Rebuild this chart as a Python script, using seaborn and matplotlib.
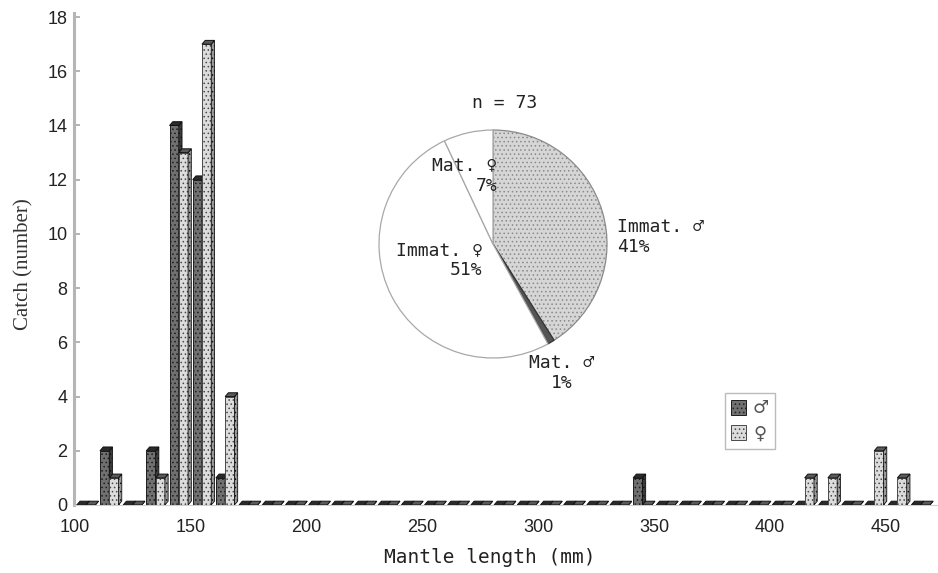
import numpy as np
import pandas as pd
import matplotlib
matplotlib.use("Agg")
import matplotlib.pyplot as plt
from matplotlib.patches import Polygon, Patch
import seaborn as sns

# ---- data ----
bins = [100, 110, 120, 130, 140, 150, 160, 170, 180, 190,
        200, 210, 220, 230, 240, 250, 260, 270, 280, 290,
        300, 310, 320, 330, 340, 350, 360, 370, 380, 390,
        400, 410, 420, 430, 440, 450, 460]
male = [0, 2, 0, 2, 14, 12, 1, 0, 0, 0,
        0, 0, 0, 0, 0, 0, 0, 0, 0, 0,
        0, 0, 0, 0, 1, 0, 0, 0, 0, 0,
        0, 0, 0, 0, 0, 0, 0]
female = [0, 1, 0, 1, 13, 17, 4, 0, 0, 0,
          0, 0, 0, 0, 0, 0, 0, 0, 0, 0,
          0, 0, 0, 0, 0, 0, 0, 0, 0, 0,
          0, 1, 1, 0, 2, 1, 0]
sexes = ["\u2642", "\u2640"]
yticks = [0, 2, 4, 6, 8, 10, 12, 14, 16, 18]
pie_labels = ["Immat. \u2642\n41%", "Mat. \u2642\n1%", "Immat. \u2640\n51%", "Mat. \u2640\n7%"]
pie_values = [41, 1, 51, 7]
n_total = 73

df = pd.DataFrame({
    "bin": [str(b) for b in bins] * 2,
    "sex": [sexes[0]] * len(bins) + [sexes[1]] * len(bins),
    "catch": male + female,
})

sns.set_theme(style="white")
plt.rcParams["font.family"] = ["DejaVu Sans"]
plt.rcParams["hatch.linewidth"] = 0.6

MONO = ["DejaVu Sans Mono", "Liberation Mono", "DejaVu Sans"]
NARROW = ["Liberation Sans Narrow", "Liberation Sans", "DejaVu Sans"]
SERIF = ["Liberation Serif", "DejaVu Serif"]

fig = plt.figure(figsize=(9.38, 5.73), dpi=100)
ax = fig.add_axes([0.0794, 0.1187, 0.9206, 0.8586])

male_fc, female_fc = "#707070", "#dcdcdc"
sns.barplot(data=df, x="bin", y="catch", hue="sex", order=[str(b) for b in bins],
            hue_order=sexes, palette={sexes[0]: male_fc, sexes[1]: female_fc},
            width=0.8, dodge=True, legend=False, ax=ax, saturation=1)

styles = [dict(hatch="....", ec="#1e1e1e", top="#2a2a2a", side="#3c3c3c", z=2),
          dict(hatch="....", ec="#4a4a4a", top="#5a5a5a", side="#9a9a9a", z=3)]
dx, dy = 0.14, 0.14
for cont, st in zip(ax.containers, styles):
    for p in cont:
        p.set_hatch(st["hatch"])
        p.set_edgecolor(st["ec"])
        p.set_linewidth(0.7)
        p.set_zorder(st["z"])
        x, w, h = p.get_x(), p.get_width(), p.get_height()
        top = Polygon([(x, h), (x + w, h), (x + w + dx, h + dy), (x + dx, h + dy)],
                      closed=True, facecolor=st["top"], edgecolor="#111", lw=0.7, zorder=st["z"])
        side = Polygon([(x + w, 0), (x + w + dx, dy), (x + w + dx, h + dy), (x + w, h)],
                       closed=True, facecolor=st["side"], edgecolor="#111", lw=0.6,
                       hatch="....", zorder=st["z"])
        ax.add_patch(side)
        ax.add_patch(top)

ax.set_xlim(-0.5, 36.75)
ax.set_ylim(0, 18.15)
ax.set_xticks(np.arange(-0.5, len(bins), 5))
ax.set_xticklabels([str(bins[i]) for i in range(0, len(bins), 5)], family=NARROW, fontsize=13, color="#222")
ax.set_yticks(yticks)
ax.set_yticklabels([str(v) for v in yticks], family=NARROW, fontsize=13, color="#222")
ax.tick_params(axis="x", length=0, pad=10)
ax.tick_params(axis="y", direction="in", length=4, color="#aaaaaa", pad=5, left=True)

for s in ["top", "right"]:
    ax.spines[s].set_visible(False)
ax.spines["left"].set_color("#b5b5b5")
ax.spines["left"].set_linewidth(2.2)
ax.spines["bottom"].set_color("#cfcfcf")
ax.spines["bottom"].set_linewidth(0.8)

ax.set_ylabel("Catch (number)", family=SERIF, fontsize=15, color="#333")
ax.yaxis.set_label_coords(-0.047, 0.49)
ax.set_xlabel("Mantle length (mm)", family=MONO, fontsize=14, color="#222")
ax.xaxis.set_label_coords(0.481, -0.087)

# legend
handles = [Patch(facecolor=male_fc, edgecolor="#1e1e1e", hatch="....", lw=0.7),
           Patch(facecolor=female_fc, edgecolor="#4a4a4a", hatch="....", lw=0.7)]
leg = fig.legend(handles, sexes, loc="upper left", bbox_to_anchor=(725 / 938, 1 - 393 / 573),
                 frameon=True, fancybox=False, edgecolor="#aaaaaa", fontsize=13,
                 handlelength=0.8, handleheight=0.9, handletextpad=0.4, borderpad=0.35,
                 labelspacing=0.4, borderaxespad=0)
for t in leg.get_texts():
    t.set_color("#555555")
leg.get_frame().set_linewidth(1.0)

# pie inset
pax = fig.add_axes([379 / 938, 1 - 358 / 573, 228 / 938, 228 / 573])
wedges, _ = pax.pie(pie_values, startangle=90, counterclock=False,
                    colors=["#d6d6d6", "#555555", "white", "white"],
                    wedgeprops=dict(edgecolor="#a8a8a8", linewidth=0.9))
wedges[0].set_hatch("....")
wedges[0].set_edgecolor("#8a8a8a")
wedges[1].set_edgecolor("#333333")
pax.set_xlim(-1.0, 1.0)
pax.set_ylim(-1.0, 1.0)
pax.set_aspect("equal")

label_pos = [(1.09, 0.06, "left"), (0.6, -1.13, "center"), (-0.09, -0.14, "right"), (0.04, 0.6, "right")]
for lab, (lx, ly, ha) in zip(pie_labels, label_pos):
    pax.text(lx, ly, lab, ha=ha, va="center", multialignment=ha, family=MONO,
             fontsize=13, color="#222", linespacing=1.15)
pax.text(0.105, 1.24, f"n = {n_total}", ha="center", va="center", family=MONO,
         fontsize=13, color="#222")

fig.savefig("out.png", dpi=100)
